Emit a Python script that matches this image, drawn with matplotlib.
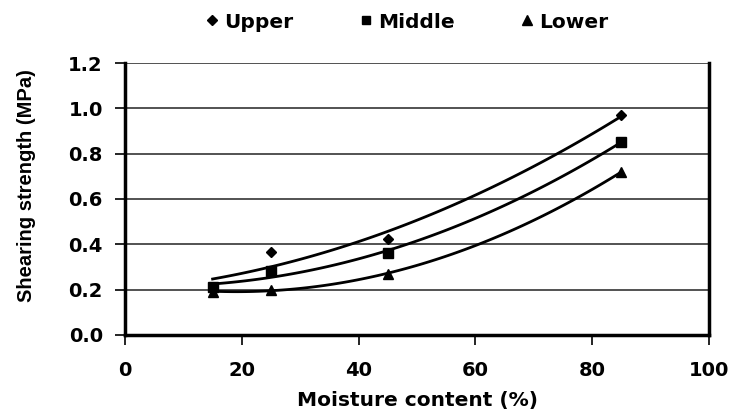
import numpy as np
import matplotlib
matplotlib.use("Agg")
from matplotlib import pyplot as plt

plt.rcParams['font.family'] = ['DejaVu Sans']
plt.rcParams['font.weight'] = 'bold'

moisture = [15, 25, 45, 85]
upper = [0.21, 0.365, 0.425, 0.97]
middle = [0.21, 0.28, 0.36, 0.853]
lower = [0.19, 0.20, 0.27, 0.72]

series = [("Upper", upper, "D", 5.5), ("Middle", middle, "s", 6.5), ("Lower", lower, "^", 7.5)]

fig = plt.figure(figsize=(7.31, 4.15), dpi=100)
ax = fig.add_axes([0.171, 0.193, 0.799, 0.655])

# 2nd order trend lines like the spreadsheet
xs = np.linspace(15, 85, 100)
for name, vals, mk, ms in series:
    ax.plot(moisture, vals, linestyle='none', marker=mk, markersize=ms,
            color='black', label=name)
    coef = np.polyfit(moisture, vals, 2)
    ax.plot(xs, np.polyval(coef, xs), color='black', linewidth=2)

ax.set_xlim(0, 100)
ax.set_ylim(0, 1.2)
ax.set_xticks(np.arange(0, 101, 20))
ax.set_yticks(np.arange(0, 1.21, 0.2))
ax.set_yticklabels([f"{v:.1f}" for v in np.arange(0, 1.21, 0.2)])
ax.yaxis.grid(True, color='#444444', linewidth=1.3)
ax.set_axisbelow(True)

for s in ['left', 'bottom', 'right']:
    ax.spines[s].set_linewidth(2.5)
ax.spines['top'].set_visible(False)

ax.tick_params(axis='both', direction='out', length=7, width=1.2,
               labelsize=14)
ax.tick_params(axis='y', pad=9)
ax.tick_params(axis='x', pad=12)

ax.set_xlabel("Moisture content (%)", fontsize=14.5, fontweight='bold', labelpad=8)
ax.set_ylabel("Shearing strength (MPa)", fontsize=14.5, fontweight='bold',
              family='Liberation Sans')
ax.yaxis.set_label_coords(-0.152, 0.55)

fig.legend(loc='center', bbox_to_anchor=(405 / 731, 1 - 22 / 415), ncol=3,
           frameon=False, fontsize=14.5, handletextpad=0.1, columnspacing=3.1,
           handlelength=1.0, markerscale=0.9)

fig.savefig("out.png", dpi=100)
